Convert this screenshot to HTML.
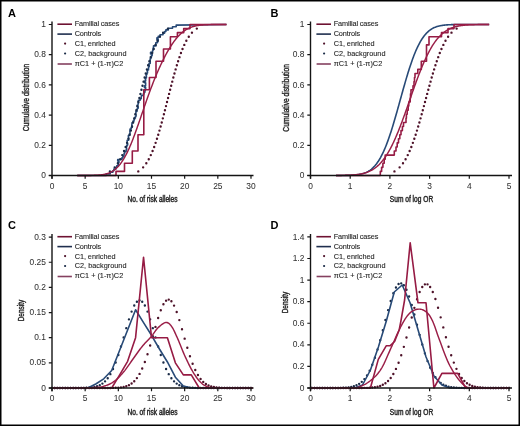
<!DOCTYPE html>
<html><head><meta charset="utf-8"><style>
html,body{margin:0;padding:0;background:#fff;}
svg{display:block;font-family:"Liberation Sans", sans-serif;will-change:transform;filter:blur(0.3px);}
</style></head><body>
<svg width="520" height="426" viewBox="0 0 520 426">
<g opacity="0.999">
<rect x="0.75" y="0.75" width="518.5" height="424.5" fill="none" stroke="#000" stroke-width="1.5"/>
<text x="8.1" y="16.8" font-size="11" text-anchor="start" font-weight="bold" fill="#000">A</text>
<text x="270.6" y="16.8" font-size="11" text-anchor="start" font-weight="bold" fill="#000">B</text>
<text x="8.1" y="229.3" font-size="11" text-anchor="start" font-weight="bold" fill="#000">C</text>
<text x="270.6" y="229.3" font-size="11" text-anchor="start" font-weight="bold" fill="#000">D</text>
<text transform="translate(28.6 97.6) rotate(-90)" font-size="9" text-anchor="middle" font-weight="normal" fill="#262626" stroke="#262626" stroke-width="0.4" textLength="67.5" lengthAdjust="spacingAndGlyphs">Cumulative distribution</text>
<text transform="translate(288.6 97.9) rotate(-90)" font-size="9" text-anchor="middle" font-weight="normal" fill="#262626" stroke="#262626" stroke-width="0.4" textLength="67.5" lengthAdjust="spacingAndGlyphs">Cumulative distribution</text>
<text transform="translate(24.4 310.6) rotate(-90)" font-size="9" text-anchor="middle" font-weight="normal" fill="#262626" stroke="#262626" stroke-width="0.4" textLength="21.5" lengthAdjust="spacingAndGlyphs">Density</text>
<text transform="translate(287.6 302.6) rotate(-90)" font-size="9" text-anchor="middle" font-weight="normal" fill="#262626" stroke="#262626" stroke-width="0.4" textLength="21.5" lengthAdjust="spacingAndGlyphs">Density</text>
<text x="152.5" y="202.2" font-size="8.6" text-anchor="middle" font-weight="normal" fill="#262626" stroke="#262626" stroke-width="0.45" textLength="50" lengthAdjust="spacingAndGlyphs">No. of risk alleles</text>
<text x="411.5" y="202.2" font-size="8.6" text-anchor="middle" font-weight="normal" fill="#262626" stroke="#262626" stroke-width="0.45" textLength="43.3" lengthAdjust="spacingAndGlyphs">Sum of log OR</text>
<text x="152.5" y="414.7" font-size="8.6" text-anchor="middle" font-weight="normal" fill="#262626" stroke="#262626" stroke-width="0.45" textLength="50" lengthAdjust="spacingAndGlyphs">No. of risk alleles</text>
<text x="411.5" y="414.7" font-size="8.6" text-anchor="middle" font-weight="normal" fill="#262626" stroke="#262626" stroke-width="0.45" textLength="43.3" lengthAdjust="spacingAndGlyphs">Sum of log OR</text>
<path d="M77.21 175.5 L106.25 175.5 L106.25 173.9 L110.22 173.9 L110.22 172.3 L112.84 172.3 L112.84 170.7 L113.86 170.7 L113.86 169.1 L115.89 169.1 L115.89 167.5 L116.7 167.5 L116.7 165.9 L118.24 165.9 L118.24 164.3 L118.26 164.3 L118.26 162.7 L118.93 162.7 L118.93 161.1 L117.74 161.1 L117.74 159.5 L121.87 159.5 L121.87 157.9 L122.88 157.9 L122.88 156.3 L123.94 156.3 L123.94 154.7 L124.12 154.7 L124.12 153.1 L124.82 153.1 L124.82 151.5 L126.08 151.5 L126.08 149.9 L126.64 149.9 L126.64 148.3 L126.44 148.3 L126.44 146.7 L126.83 146.7 L126.83 145.1 L127.65 145.1 L127.65 143.5 L127.16 143.5 L127.16 141.9 L127.16 141.9 L127.16 140.3 L128.64 140.3 L128.64 138.7 L128.57 138.7 L128.57 137.1 L128.4 137.1 L128.4 135.5 L129.52 135.5 L129.52 133.9 L130.01 133.9 L130.01 132.3 L129.9 132.3 L129.9 130.7 L130.02 130.7 L130.02 129.1 L131.2 129.1 L131.2 127.5 L132.08 127.5 L132.08 125.9 L131.86 125.9 L131.86 124.3 L131.98 124.3 L131.98 122.7 L133.01 122.7 L133.01 121.1 L134.04 121.1 L134.04 119.5 L134.47 119.5 L134.47 117.9 L135.39 117.9 L135.39 116.3 L136.08 116.3 L136.08 114.7 L135.8 114.7 L135.8 113.1 L135.89 113.1 L135.89 111.5 L136.94 111.5 L136.94 109.9 L137.3 109.9 L137.3 108.3 L138.19 108.3 L138.19 106.7 L137.31 106.7 L137.31 105.1 L138.09 105.1 L138.09 103.5 L138.42 103.5 L138.42 101.9 L138.36 101.9 L138.36 100.3 L140.14 100.3 L140.14 98.7 L141.19 98.7 L141.19 97.1 L141.32 97.1 L141.32 95.5 L143.32 95.5 L143.32 93.9 L144.01 93.9 L144.01 92.3 L144.91 92.3 L144.91 90.7 L145.26 90.7 L145.26 89.1 L145.63 89.1 L145.63 87.5 L144.44 87.5 L144.44 85.9 L145.58 85.9 L145.58 84.3 L145.64 84.3 L145.64 82.7 L144.4 82.7 L144.4 81.1 L145.63 81.1 L145.63 79.5 L145.39 79.5 L145.39 77.9 L146.4 77.9 L146.4 76.3 L146.17 76.3 L146.17 74.7 L146.84 74.7 L146.84 73.1 L147.48 73.1 L147.48 71.5 L147.25 71.5 L147.25 69.9 L148.5 69.9 L148.5 68.3 L148.55 68.3 L148.55 66.7 L149.24 66.7 L149.24 65.1 L149 65.1 L149 63.5 L150.19 63.5 L150.19 61.9 L150.23 61.9 L150.23 60.3 L150.11 60.3 L150.11 58.7 L150.86 58.7 L150.86 57.1 L151.52 57.1 L151.52 55.5 L152.12 55.5 L152.12 53.9 L150.58 53.9 L150.58 52.3 L152.53 52.3 L152.53 50.7 L152.96 50.7 L152.96 49.1 L153.32 49.1 L153.32 47.5 L153.52 47.5 L153.52 45.9 L155.97 45.9 L155.97 44.3 L155.78 44.3 L155.78 42.7 L157.49 42.7 L157.49 41.1 L158.22 41.1 L158.22 39.5 L156.94 39.5 L156.94 37.9 L158.23 37.9 L158.23 36.3 L160.05 36.3 L160.05 34.7 L163.01 34.7 L163.01 33.1 L164.65 33.1 L164.65 31.5 L165.88 31.5 L165.88 29.9 L168.34 29.9 L168.34 28.3 L172.51 28.3 L172.51 26.7 L176.2 26.7 L176.2 25.1 L226.45 24.5" stroke="#284a77" stroke-width="1.6" fill="none" stroke-linejoin="round" opacity="1"/>
<path d="M109.89 171.42h0M114.7 167.34h0M117.85 163.26h0M120.27 159.18h0M122.29 155.09h0M124.05 151.01h0M125.63 146.93h0M127.07 142.85h0M128.41 138.77h0M129.68 134.69h0M130.88 130.61h0M132.03 126.53h0M133.15 122.45h0M134.23 118.36h0M135.29 114.28h0M136.33 110.2h0M137.36 106.12h0M138.38 102.04h0M139.4 97.96h0M140.43 93.88h0M141.45 89.8h0M142.5 85.72h0M143.56 81.64h0M144.64 77.55h0M145.75 73.47h0M146.91 69.39h0M148.11 65.31h0M149.37 61.23h0M150.71 57.15h0M152.16 53.07h0M153.73 48.99h0M155.49 44.91h0M157.51 40.82h0M159.94 36.74h0M163.09 32.66h0M167.9 28.58h0" stroke="#1a2b47" stroke-width="2.4" stroke-linecap="round" fill="none"/>
<path d="M77.21 175.5 L116 175.5 L116 171.42 L124.5 171.42 L124.5 163.26 L132.3 163.26 L132.3 151.01 L138 151.01 L138 134.69 L143.8 134.69 L143.8 89.8 L149.4 89.8 L149.4 77.55 L156 77.55 L156 61.23 L163.5 61.23 L163.5 48.99 L170.4 48.99 L170.4 36.74 L177.4 36.74 L177.4 32.66 L183.7 32.66 L183.7 28.58 L190 28.58 L190 24.5 L226.45 24.5" stroke="#961b44" stroke-width="1.6" fill="none" stroke-linejoin="round" opacity="1"/>
<path d="M77.21 175.5 L77.7 175.5 L78.2 175.5 L78.7 175.5 L79.2 175.5 L79.7 175.5 L80.2 175.49 L80.7 175.49 L81.2 175.49 L81.7 175.49 L82.2 175.49 L82.7 175.49 L83.2 175.49 L83.69 175.49 L84.19 175.48 L84.69 175.48 L85.19 175.48 L85.69 175.48 L86.19 175.47 L86.69 175.47 L87.19 175.47 L87.69 175.46 L88.19 175.46 L88.69 175.45 L89.18 175.45 L89.68 175.44 L90.18 175.43 L90.68 175.42 L91.18 175.41 L91.68 175.4 L92.18 175.39 L92.68 175.38 L93.18 175.36 L93.68 175.35 L94.18 175.33 L94.68 175.31 L95.17 175.29 L95.67 175.27 L96.17 175.25 L96.67 175.22 L97.17 175.19 L97.67 175.15 L98.17 175.12 L98.67 175.08 L99.17 175.04 L99.67 174.99 L100.17 174.94 L100.66 174.88 L101.16 174.82 L101.66 174.76 L102.16 174.69 L102.66 174.61 L103.16 174.53 L103.66 174.44 L104.16 174.34 L104.66 174.24 L105.16 174.13 L105.66 174.01 L106.16 173.88 L106.65 173.74 L107.15 173.59 L107.65 173.43 L108.15 173.26 L108.65 173.07 L109.15 172.88 L109.65 172.67 L110.15 172.45 L110.65 172.21 L111.15 171.96 L111.65 171.7 L112.15 171.41 L112.64 171.12 L113.14 170.8 L113.64 170.46 L114.14 170.11 L114.64 169.74 L115.14 169.34 L115.64 168.93 L116.14 168.5 L116.64 168.04 L117.14 167.56 L117.64 167.06 L118.13 166.53 L118.63 165.98 L119.13 165.41 L119.63 164.81 L120.13 164.18 L120.63 163.53 L121.13 162.85 L121.63 162.15 L122.13 161.42 L122.63 160.66 L123.13 159.87 L123.63 159.06 L124.12 158.22 L124.62 157.35 L125.12 156.46 L125.62 155.53 L126.12 154.58 L126.62 153.61 L127.12 152.6 L127.62 151.57 L128.12 150.52 L128.62 149.43 L129.12 148.33 L129.61 147.19 L130.11 146.04 L130.61 144.86 L131.11 143.66 L131.61 142.43 L132.11 141.19 L132.61 139.92 L133.11 138.64 L133.61 137.33 L134.11 136.01 L134.61 134.68 L135.11 133.32 L135.6 131.95 L136.1 130.57 L136.6 129.18 L137.1 127.78 L137.6 126.36 L138.1 124.94 L138.6 123.5 L139.1 122.07 L139.6 120.62 L140.1 119.17 L140.6 117.72 L141.1 116.27 L141.59 114.81 L142.09 113.35 L142.59 111.9 L143.09 110.44 L143.59 108.99 L144.09 107.54 L144.59 106.1 L145.09 104.66 L145.59 103.23 L146.09 101.8 L146.59 100.38 L147.08 98.97 L147.58 97.57 L148.08 96.17 L148.58 94.79 L149.08 93.42 L149.58 92.05 L150.08 90.7 L150.58 89.36 L151.08 88.03 L151.58 86.72 L152.08 85.41 L152.58 84.12 L153.07 82.84 L153.57 81.58 L154.07 80.32 L154.57 79.09 L155.07 77.86 L155.57 76.65 L156.07 75.45 L156.57 74.26 L157.07 73.09 L157.57 71.93 L158.07 70.78 L158.57 69.65 L159.06 68.53 L159.56 67.42 L160.06 66.33 L160.56 65.25 L161.06 64.19 L161.56 63.13 L162.06 62.1 L162.56 61.07 L163.06 60.06 L163.56 59.06 L164.06 58.08 L164.55 57.11 L165.05 56.15 L165.55 55.21 L166.05 54.28 L166.55 53.36 L167.05 52.46 L167.55 51.58 L168.05 50.7 L168.55 49.85 L169.05 49 L169.55 48.18 L170.05 47.36 L170.54 46.56 L171.04 45.78 L171.54 45.02 L172.04 44.26 L172.54 43.53 L173.04 42.81 L173.54 42.1 L174.04 41.41 L174.54 40.74 L175.04 40.09 L175.54 39.45 L176.03 38.82 L176.53 38.22 L177.03 37.62 L177.53 37.05 L178.03 36.49 L178.53 35.95 L179.03 35.42 L179.53 34.91 L180.03 34.42 L180.53 33.94 L181.03 33.48 L181.53 33.04 L182.02 32.61 L182.52 32.19 L183.02 31.79 L183.52 31.41 L184.02 31.04 L184.52 30.69 L185.02 30.34 L185.52 30.02 L186.02 29.71 L186.52 29.41 L187.02 29.12 L187.52 28.85 L188.01 28.59 L188.51 28.34 L189.01 28.1 L189.51 27.88 L190.01 27.67 L190.51 27.46 L191.01 27.27 L191.51 27.09 L192.01 26.92 L192.51 26.75 L193.01 26.6 L193.5 26.45 L194 26.32 L194.5 26.19 L195 26.07 L195.5 25.95 L196 25.85 L196.5 25.75 L197 25.65 L197.5 25.57 L198 25.48 L198.5 25.41 L199 25.34 L199.49 25.27 L199.99 25.21 L200.49 25.15 L200.99 25.1 L201.49 25.05 L201.99 25 L202.49 24.96 L202.99 24.92 L203.49 24.88 L203.99 24.85 L204.49 24.82 L204.98 24.79 L205.48 24.76 L205.98 24.74 L206.48 24.72 L206.98 24.7 L207.48 24.68 L207.98 24.66 L208.48 24.65 L208.98 24.63 L209.48 24.62 L209.98 24.61 L210.48 24.6 L210.97 24.59 L211.47 24.58 L211.97 24.57 L212.47 24.56 L212.97 24.56 L213.47 24.55 L213.97 24.55 L214.47 24.54 L214.97 24.54 L215.47 24.53 L215.97 24.53 L216.47 24.53 L216.96 24.52 L217.46 24.52 L217.96 24.52 L218.46 24.52 L218.96 24.51 L219.46 24.51 L219.96 24.51 L220.46 24.51 L220.96 24.51 L221.46 24.51 L221.96 24.51 L222.45 24.51 L222.95 24.51 L223.45 24.5 L223.95 24.5 L224.45 24.5 L224.95 24.5 L225.45 24.5 L225.95 24.5 L226.45 24.5" stroke="#9a1e47" stroke-width="1.45" fill="none" stroke-linejoin="round" opacity="1"/>
<path d="M138.29 171.42h0M143.14 167.34h0M146.31 163.26h0M148.76 159.18h0M150.8 155.09h0M152.58 151.01h0M154.17 146.93h0M155.62 142.85h0M156.98 138.77h0M158.25 134.69h0M159.46 130.61h0M160.63 126.53h0M161.75 122.45h0M162.84 118.36h0M163.91 114.28h0M164.96 110.2h0M166 106.12h0M167.03 102.04h0M168.06 97.96h0M169.09 93.88h0M170.13 89.8h0M171.18 85.72h0M172.25 81.64h0M173.34 77.55h0M174.47 73.47h0M175.63 69.39h0M176.84 65.31h0M178.12 61.23h0M179.47 57.15h0M180.93 53.07h0M182.52 48.99h0M184.29 44.91h0M186.33 40.82h0M188.78 36.74h0M191.95 32.66h0M196.81 28.58h0" stroke="#4e1229" stroke-width="2.4" stroke-linecap="round" fill="none"/>
<path d="M335.91 175.49 L336.42 175.49 L336.93 175.49 L337.45 175.49 L337.96 175.49 L338.47 175.48 L338.98 175.48 L339.5 175.48 L340.01 175.48 L340.52 175.47 L341.03 175.47 L341.55 175.47 L342.06 175.46 L342.57 175.46 L343.08 175.45 L343.6 175.45 L344.11 175.44 L344.62 175.44 L345.13 175.43 L345.65 175.42 L346.16 175.41 L346.67 175.4 L347.18 175.39 L347.7 175.38 L348.21 175.36 L348.72 175.35 L349.23 175.33 L349.75 175.31 L350.26 175.29 L350.77 175.27 L351.28 175.25 L351.8 175.22 L352.31 175.19 L352.82 175.16 L353.33 175.13 L353.85 175.09 L354.36 175.05 L354.87 175.01 L355.38 174.96 L355.9 174.91 L356.41 174.85 L356.92 174.79 L357.43 174.72 L357.95 174.65 L358.46 174.57 L358.97 174.49 L359.48 174.4 L360 174.3 L360.51 174.2 L361.02 174.09 L361.53 173.97 L362.05 173.84 L362.56 173.7 L363.07 173.55 L363.58 173.39 L364.1 173.21 L364.61 173.03 L365.12 172.84 L365.63 172.63 L366.15 172.41 L366.66 172.17 L367.17 171.92 L367.68 171.65 L368.2 171.36 L368.71 171.06 L369.22 170.74 L369.73 170.41 L370.25 170.05 L370.76 169.67 L371.27 169.27 L371.78 168.85 L372.3 168.4 L372.81 167.94 L373.32 167.45 L373.83 166.93 L374.35 166.39 L374.86 165.82 L375.37 165.22 L375.88 164.6 L376.4 163.95 L376.91 163.26 L377.42 162.55 L377.93 161.81 L378.45 161.04 L378.96 160.23 L379.47 159.39 L379.98 158.52 L380.5 157.62 L381.01 156.68 L381.52 155.71 L382.03 154.71 L382.55 153.67 L383.06 152.6 L383.57 151.49 L384.08 150.35 L384.6 149.17 L385.11 147.96 L385.62 146.72 L386.13 145.44 L386.65 144.12 L387.16 142.78 L387.67 141.4 L388.18 139.99 L388.7 138.55 L389.21 137.07 L389.72 135.57 L390.23 134.04 L390.75 132.47 L391.26 130.89 L391.77 129.27 L392.28 127.63 L392.8 125.96 L393.31 124.28 L393.82 122.57 L394.33 120.84 L394.85 119.09 L395.36 117.32 L395.87 115.54 L396.38 113.74 L396.9 111.93 L397.41 110.11 L397.92 108.28 L398.43 106.44 L398.95 104.6 L399.46 102.75 L399.97 100.9 L400.48 99.05 L401 97.2 L401.51 95.35 L402.02 93.51 L402.53 91.67 L403.05 89.84 L403.56 88.02 L404.07 86.21 L404.59 84.42 L405.1 82.63 L405.61 80.87 L406.12 79.12 L406.64 77.39 L407.15 75.68 L407.66 73.99 L408.17 72.33 L408.69 70.69 L409.2 69.07 L409.71 67.48 L410.22 65.92 L410.74 64.39 L411.25 62.89 L411.76 61.42 L412.27 59.97 L412.79 58.56 L413.3 57.19 L413.81 55.84 L414.32 54.53 L414.84 53.25 L415.35 52.01 L415.86 50.8 L416.37 49.62 L416.89 48.48 L417.4 47.37 L417.91 46.3 L418.42 45.26 L418.94 44.26 L419.45 43.29 L419.96 42.36 L420.47 41.45 L420.99 40.58 L421.5 39.75 L422.01 38.94 L422.52 38.17 L423.04 37.43 L423.55 36.72 L424.06 36.04 L424.57 35.39 L425.09 34.76 L425.6 34.17 L426.11 33.6 L426.62 33.06 L427.14 32.54 L427.65 32.05 L428.16 31.58 L428.67 31.14 L429.19 30.72 L429.7 30.32 L430.21 29.94 L430.72 29.59 L431.24 29.25 L431.75 28.93 L432.26 28.63 L432.77 28.34 L433.29 28.08 L433.8 27.83 L434.31 27.59 L434.82 27.37 L435.34 27.16 L435.85 26.96 L436.36 26.78 L436.87 26.61 L437.39 26.45 L437.9 26.3 L438.41 26.16 L438.92 26.03 L439.44 25.91 L439.95 25.8 L440.46 25.69 L440.97 25.6 L441.49 25.51 L442 25.42 L442.51 25.35 L443.02 25.27 L443.54 25.21 L444.05 25.15 L444.56 25.09 L445.07 25.04 L445.59 24.99 L446.1 24.95 L446.61 24.91 L447.12 24.87 L447.64 24.84 L448.15 24.81 L448.66 24.78 L449.17 24.75 L449.69 24.73 L450.2 24.71 L450.71 24.69 L451.22 24.67 L451.74 24.65 L452.25 24.64 L452.76 24.62 L453.27 24.61 L453.79 24.6 L454.3 24.59 L454.81 24.58 L455.32 24.57 L455.84 24.56 L456.35 24.56 L456.86 24.55 L457.37 24.55 L457.89 24.54 L458.4 24.54 L458.91 24.53 L459.42 24.53 L459.94 24.53 L460.45 24.52 L460.96 24.52 L461.47 24.52 L461.99 24.52 L462.5 24.51 L463.01 24.51 L463.52 24.51 L464.04 24.51 L464.55 24.51 L465.06 24.51 L465.57 24.51 L466.09 24.51 L466.6 24.51 L467.11 24.5 L467.62 24.5 L468.14 24.5 L468.65 24.5 L469.16 24.5 L469.67 24.5 L470.19 24.5 L470.7 24.5 L471.21 24.5 L471.72 24.5 L472.24 24.5 L472.75 24.5 L473.26 24.5 L473.77 24.5 L474.29 24.5 L474.8 24.5 L475.31 24.5 L475.82 24.5 L476.34 24.5 L476.85 24.5 L477.36 24.5 L477.87 24.5 L478.39 24.5 L478.9 24.5 L479.41 24.5 L479.92 24.5 L480.44 24.5 L480.95 24.5 L481.46 24.5 L481.97 24.5 L482.49 24.5 L483 24.5 L483.51 24.5 L484.02 24.5 L484.54 24.5 L485.05 24.5 L485.56 24.5 L486.07 24.5 L486.59 24.5 L487.1 24.5 L487.61 24.5 L488.12 24.5 L488.64 24.5 L489.15 24.5" stroke="#284a77" stroke-width="1.6" fill="none" stroke-linejoin="round" opacity="1"/>
<path d="M335.91 175.5 L380.3 175.5 L380.3 171.42 L381.6 171.42 L381.6 167.34 L382.9 167.34 L382.9 163.26 L384.2 163.26 L384.2 159.18 L385.2 159.18 L385.2 155.09 L394.3 155.09 L394.3 151.01 L396 151.01 L396 146.93 L397.2 146.93 L397.2 142.85 L398.5 142.85 L398.5 138.77 L399.8 138.77 L399.8 134.69 L401 134.69 L401 130.61 L402.4 130.61 L402.4 126.53 L403.5 126.53 L403.5 122.45 L406 122.45 L406 118.36 L406.4 118.36 L406.4 114.28 L407.2 114.28 L407.2 110.2 L408.2 110.2 L408.2 106.12 L408.8 106.12 L408.8 102.04 L410.2 102.04 L410.2 97.96 L410.5 97.96 L410.5 93.88 L411 93.88 L411 89.8 L413 89.8 L413 85.72 L414 85.72 L414 81.64 L414.5 81.64 L414.5 77.55 L415 77.55 L415 73.47 L417.8 73.47 L417.8 69.39 L421.3 69.39 L421.3 65.31 L421.3 65.31 L421.3 61.23 L426.5 61.23 L426.5 57.15 L426.5 57.15 L426.5 53.07 L426.5 53.07 L426.5 48.99 L426.5 48.99 L426.5 44.91 L429 44.91 L429 40.82 L429 40.82 L429 36.74 L441.5 36.74 L441.5 32.66 L448 32.66 L448 28.58 L454 28.58 L454 24.5 L489.15 24.5" stroke="#961b44" stroke-width="1.6" fill="none" stroke-linejoin="round" opacity="1"/>
<path d="M335.91 175.47 L336.42 175.46 L336.93 175.46 L337.45 175.46 L337.96 175.45 L338.47 175.45 L338.98 175.44 L339.5 175.44 L340.01 175.43 L340.52 175.42 L341.03 175.42 L341.55 175.41 L342.06 175.4 L342.57 175.39 L343.08 175.38 L343.6 175.37 L344.11 175.36 L344.62 175.35 L345.13 175.34 L345.65 175.33 L346.16 175.31 L346.67 175.29 L347.18 175.28 L347.7 175.26 L348.21 175.24 L348.72 175.22 L349.23 175.2 L349.75 175.17 L350.26 175.15 L350.77 175.12 L351.28 175.09 L351.8 175.06 L352.31 175.02 L352.82 174.99 L353.33 174.95 L353.85 174.9 L354.36 174.86 L354.87 174.81 L355.38 174.76 L355.9 174.71 L356.41 174.65 L356.92 174.59 L357.43 174.53 L357.95 174.46 L358.46 174.38 L358.97 174.31 L359.48 174.22 L360 174.14 L360.51 174.05 L361.02 173.95 L361.53 173.84 L362.05 173.73 L362.56 173.62 L363.07 173.5 L363.58 173.37 L364.1 173.23 L364.61 173.09 L365.12 172.94 L365.63 172.78 L366.15 172.61 L366.66 172.44 L367.17 172.25 L367.68 172.06 L368.2 171.85 L368.71 171.64 L369.22 171.42 L369.73 171.18 L370.25 170.94 L370.76 170.68 L371.27 170.41 L371.78 170.13 L372.3 169.83 L372.81 169.52 L373.32 169.2 L373.83 168.87 L374.35 168.52 L374.86 168.16 L375.37 167.78 L375.88 167.38 L376.4 166.97 L376.91 166.55 L377.42 166.11 L377.93 165.65 L378.45 165.17 L378.96 164.68 L379.47 164.16 L379.98 163.63 L380.5 163.08 L381.01 162.52 L381.52 161.93 L382.03 161.32 L382.55 160.7 L383.06 160.05 L383.57 159.38 L384.08 158.7 L384.6 157.99 L385.11 157.26 L385.62 156.51 L386.13 155.74 L386.65 154.95 L387.16 154.13 L387.67 153.3 L388.18 152.44 L388.7 151.56 L389.21 150.66 L389.72 149.74 L390.23 148.8 L390.75 147.83 L391.26 146.85 L391.77 145.84 L392.28 144.81 L392.8 143.76 L393.31 142.69 L393.82 141.6 L394.33 140.48 L394.85 139.35 L395.36 138.2 L395.87 137.03 L396.38 135.84 L396.9 134.63 L397.41 133.4 L397.92 132.16 L398.43 130.9 L398.95 129.62 L399.46 128.33 L399.97 127.02 L400.48 125.69 L401 124.35 L401.51 123 L402.02 121.64 L402.53 120.26 L403.05 118.87 L403.56 117.47 L404.07 116.06 L404.59 114.64 L405.1 113.21 L405.61 111.78 L406.12 110.33 L406.64 108.89 L407.15 107.43 L407.66 105.97 L408.17 104.51 L408.69 103.05 L409.2 101.58 L409.71 100.11 L410.22 98.65 L410.74 97.18 L411.25 95.72 L411.76 94.25 L412.27 92.79 L412.79 91.34 L413.3 89.89 L413.81 88.45 L414.32 87.01 L414.84 85.58 L415.35 84.16 L415.86 82.75 L416.37 81.35 L416.89 79.96 L417.4 78.58 L417.91 77.21 L418.42 75.86 L418.94 74.51 L419.45 73.19 L419.96 71.88 L420.47 70.58 L420.99 69.3 L421.5 68.03 L422.01 66.79 L422.52 65.56 L423.04 64.35 L423.55 63.15 L424.06 61.98 L424.57 60.83 L425.09 59.69 L425.6 58.58 L426.11 57.48 L426.62 56.41 L427.14 55.35 L427.65 54.32 L428.16 53.31 L428.67 52.32 L429.19 51.35 L429.7 50.4 L430.21 49.48 L430.72 48.57 L431.24 47.69 L431.75 46.83 L432.26 45.99 L432.77 45.18 L433.29 44.38 L433.8 43.61 L434.31 42.85 L434.82 42.12 L435.34 41.41 L435.85 40.72 L436.36 40.05 L436.87 39.4 L437.39 38.77 L437.9 38.16 L438.41 37.57 L438.92 37 L439.44 36.45 L439.95 35.92 L440.46 35.4 L440.97 34.91 L441.49 34.43 L442 33.96 L442.51 33.52 L443.02 33.09 L443.54 32.68 L444.05 32.28 L444.56 31.9 L445.07 31.54 L445.59 31.18 L446.1 30.85 L446.61 30.52 L447.12 30.21 L447.64 29.92 L448.15 29.63 L448.66 29.36 L449.17 29.1 L449.69 28.86 L450.2 28.62 L450.71 28.39 L451.22 28.18 L451.74 27.97 L452.25 27.78 L452.76 27.59 L453.27 27.41 L453.79 27.25 L454.3 27.09 L454.81 26.93 L455.32 26.79 L455.84 26.65 L456.35 26.52 L456.86 26.4 L457.37 26.28 L457.89 26.17 L458.4 26.07 L458.91 25.97 L459.42 25.88 L459.94 25.79 L460.45 25.71 L460.96 25.63 L461.47 25.55 L461.99 25.48 L462.5 25.42 L463.01 25.36 L463.52 25.3 L464.04 25.25 L464.55 25.19 L465.06 25.15 L465.57 25.1 L466.09 25.06 L466.6 25.02 L467.11 24.98 L467.62 24.95 L468.14 24.92 L468.65 24.89 L469.16 24.86 L469.67 24.83 L470.19 24.81 L470.7 24.78 L471.21 24.76 L471.72 24.74 L472.24 24.73 L472.75 24.71 L473.26 24.69 L473.77 24.68 L474.29 24.66 L474.8 24.65 L475.31 24.64 L475.82 24.63 L476.34 24.62 L476.85 24.61 L477.36 24.6 L477.87 24.59 L478.39 24.58 L478.9 24.58 L479.41 24.57 L479.92 24.56 L480.44 24.56 L480.95 24.55 L481.46 24.55 L481.97 24.55 L482.49 24.54 L483 24.54 L483.51 24.53 L484.02 24.53 L484.54 24.53 L485.05 24.53 L485.56 24.52 L486.07 24.52 L486.59 24.52 L487.1 24.52 L487.61 24.52 L488.12 24.51 L488.64 24.51 L489.15 24.51" stroke="#9a1e47" stroke-width="1.45" fill="none" stroke-linejoin="round" opacity="1"/>
<path d="M394.45 171.42h0M399.61 167.34h0M402.99 163.26h0M405.59 159.18h0M407.75 155.09h0M409.64 151.01h0M411.33 146.93h0M412.88 142.85h0M414.32 138.77h0M415.67 134.69h0M416.96 130.61h0M418.2 126.53h0M419.39 122.45h0M420.55 118.36h0M421.69 114.28h0M422.8 110.2h0M423.91 106.12h0M425 102.04h0M426.1 97.96h0M427.19 93.88h0M428.3 89.8h0M429.41 85.72h0M430.55 81.64h0M431.71 77.55h0M432.91 73.47h0M434.14 69.39h0M435.43 65.31h0M436.78 61.23h0M438.22 57.15h0M439.77 53.07h0M441.46 48.99h0M443.35 44.91h0M445.51 40.82h0M448.11 36.74h0M451.49 32.66h0M456.65 28.58h0" stroke="#4e1229" stroke-width="2.4" stroke-linecap="round" fill="none"/>
<path d="M52 388h0M54.65 388h0M57.31 388h0M59.96 388h0M62.61 388h0M65.27 388h0M67.92 388h0M70.57 388h0M73.23 387.99h0M75.88 387.99h0M78.53 387.97h0M81.19 387.95h0M83.84 387.9h0M86.49 387.8h0M89.14 387.64h0M91.8 387.37h0M94.45 386.93h0M97.1 386.24h0M99.76 385.17h0M102.41 383.59h0M105.06 381.35h0M107.72 378.26h0M110.37 374.16h0M113.02 368.94h0M115.68 362.53h0M118.33 354.99h0M120.98 346.5h0M123.64 337.4h0M126.29 328.16h0M128.94 319.35h0M131.6 311.61h0M134.25 305.56h0M136.9 301.7h0M139.56 300.37h0M142.21 301.7h0M144.86 305.56h0M147.52 311.61h0M150.17 319.35h0M152.82 328.16h0M155.47 337.4h0M158.13 346.5h0M160.78 354.99h0M163.43 362.53h0M166.09 368.94h0M168.74 374.16h0M171.39 378.26h0M174.05 381.35h0M176.7 383.59h0M179.35 385.17h0M182.01 386.24h0M184.66 386.93h0M187.31 387.37h0M189.97 387.64h0M192.62 387.8h0M195.27 387.9h0M197.93 387.95h0M200.58 387.97h0M203.23 387.99h0M205.89 387.99h0M208.54 388h0M211.19 388h0M213.85 388h0M216.5 388h0M219.15 388h0M221.8 388h0M224.46 388h0M227.11 388h0M229.76 388h0M232.42 388h0M235.07 388h0M237.72 388h0M240.38 388h0M243.03 388h0M245.68 388h0M248.34 388h0M250.99 388h0" stroke="#1a2b47" stroke-width="2.4" stroke-linecap="round" fill="none"/>
<path d="M52 388h0M54.65 388h0M57.31 388h0M59.96 388h0M62.61 388h0M65.27 388h0M67.92 388h0M70.57 388h0M73.23 388h0M75.88 388h0M78.53 388h0M81.19 388h0M83.84 388h0M86.49 388h0M89.14 388h0M91.8 388h0M94.45 388h0M97.1 388h0M99.76 388h0M102.41 387.99h0M105.06 387.99h0M107.72 387.97h0M110.37 387.95h0M113.02 387.9h0M115.68 387.81h0M118.33 387.65h0M120.98 387.38h0M123.64 386.94h0M126.29 386.23h0M128.94 385.15h0M131.6 383.55h0M134.25 381.26h0M136.9 378.1h0M139.56 373.91h0M142.21 368.55h0M144.86 361.98h0M147.52 354.25h0M150.17 345.56h0M152.82 336.27h0M155.47 326.88h0M158.13 317.98h0M160.78 310.25h0M163.43 304.3h0M166.09 300.64h0M168.74 299.62h0M171.39 301.32h0M174.05 305.59h0M176.7 312.04h0M179.35 320.12h0M182.01 329.2h0M184.66 338.63h0M187.31 347.81h0M189.97 356.28h0M192.62 363.73h0M195.27 370h0M197.93 375.06h0M200.58 378.98h0M203.23 381.91h0M205.89 384.01h0M208.54 385.46h0M211.19 386.44h0M213.85 387.07h0M216.5 387.46h0M219.15 387.7h0M221.8 387.84h0M224.46 387.91h0M227.11 387.96h0M229.76 387.98h0M232.42 387.99h0M235.07 388h0M237.72 388h0M240.38 388h0M243.03 388h0M245.68 388h0M248.34 388h0M250.99 388h0" stroke="#4e1229" stroke-width="2.4" stroke-linecap="round" fill="none"/>
<path d="M52 388 L87.82 388 L95.78 383.98 L103.74 378.8 L111.7 370.5 L135.58 309.78 L143.54 322.61 L151.5 335.29 L159.45 349.02 L167.41 361.99 L175.37 377.19 L183.33 385.99 L191.29 388 L250.99 388" stroke="#284a77" stroke-width="1.6" fill="none" stroke-linejoin="round" opacity="1"/>
<path d="M52 388 L111.7 388 L119.66 374.92 L127.62 361.34 L135.58 337.7 L143.54 257.22 L151.5 337.7 L159.45 337.7 L167.41 337.7 L175.37 362.85 L183.33 374.92 L191.29 374.92 L199.25 388 L250.99 388" stroke="#961b44" stroke-width="1.6" fill="none" stroke-linejoin="round" opacity="1"/>
<path d="M52 388 L53.74 388 L56.06 388.01 L58.85 388.01 L61.95 388.02 L65.25 388.03 L68.61 388.03 L71.89 388.03 L74.98 388.03 L77.72 388.02 L80 388 L81.85 387.98 L83.44 387.96 L84.81 387.93 L86 387.9 L87.06 387.87 L88.04 387.83 L88.98 387.78 L89.92 387.73 L90.91 387.67 L92 387.6 L93.14 387.54 L94.26 387.49 L95.37 387.45 L96.47 387.4 L97.56 387.34 L98.64 387.26 L99.72 387.15 L100.81 386.99 L101.9 386.78 L103 386.5 L104.11 386.17 L105.23 385.81 L106.36 385.42 L107.49 384.98 L108.62 384.5 L109.74 383.98 L110.86 383.41 L111.96 382.79 L113.04 382.12 L114.1 381.4 L115.14 380.62 L116.17 379.77 L117.19 378.86 L118.19 377.91 L119.18 376.91 L120.16 375.88 L121.13 374.81 L122.1 373.72 L123.05 372.62 L124 371.5 L124.94 370.35 L125.86 369.16 L126.77 367.93 L127.66 366.68 L128.56 365.4 L129.44 364.11 L130.33 362.82 L131.21 361.53 L132.1 360.25 L133 359 L133.9 357.75 L134.79 356.5 L135.68 355.24 L136.58 353.98 L137.47 352.73 L138.36 351.48 L139.26 350.25 L140.17 349.04 L141.08 347.86 L142 346.7 L142.94 345.57 L143.92 344.45 L144.91 343.35 L145.91 342.27 L146.91 341.21 L147.89 340.16 L148.85 339.14 L149.78 338.14 L150.67 337.16 L151.5 336.2 L152.27 335.26 L152.97 334.34 L153.63 333.43 L154.25 332.54 L154.86 331.68 L155.45 330.84 L156.05 330.03 L156.66 329.25 L157.31 328.5 L158 327.8 L158.74 327.1 L159.51 326.4 L160.31 325.7 L161.13 325.02 L161.95 324.39 L162.77 323.82 L163.57 323.32 L164.35 322.93 L165.1 322.65 L165.8 322.5 L166.45 322.48 L167.07 322.55 L167.66 322.73 L168.23 323 L168.78 323.35 L169.31 323.79 L169.85 324.31 L170.39 324.9 L170.94 325.57 L171.5 326.3 L172.07 327.11 L172.62 328 L173.17 328.97 L173.72 330.01 L174.28 331.14 L174.84 332.33 L175.42 333.6 L176.02 334.94 L176.64 336.34 L177.3 337.8 L177.99 339.37 L178.72 341.09 L179.47 342.91 L180.24 344.81 L181.03 346.76 L181.83 348.73 L182.63 350.69 L183.43 352.61 L184.22 354.45 L185 356.2 L185.77 357.88 L186.54 359.53 L187.31 361.17 L188.08 362.77 L188.85 364.34 L189.62 365.87 L190.39 367.35 L191.16 368.79 L191.93 370.17 L192.7 371.5 L193.47 372.78 L194.24 374.01 L195.01 375.21 L195.78 376.36 L196.55 377.46 L197.32 378.5 L198.09 379.49 L198.86 380.43 L199.63 381.3 L200.4 382.1 L201.16 382.83 L201.9 383.49 L202.64 384.08 L203.37 384.62 L204.11 385.09 L204.86 385.52 L205.63 385.91 L206.42 386.27 L207.24 386.6 L208.1 386.9 L208.89 387.16 L209.54 387.37 L210.12 387.54 L210.7 387.66 L211.34 387.75 L212.13 387.82 L213.12 387.87 L214.38 387.91 L215.98 387.95 L218 388 L220.64 388.04 L223.95 388.07 L227.76 388.08 L231.87 388.08 L236.12 388.07 L240.32 388.05 L244.28 388.03 L247.84 388.02 L250.8 388 L253 388" stroke="#9a1e47" stroke-width="1.45" fill="none" stroke-linejoin="round" opacity="1"/>
<path d="M311.8 388h0M314.43 388h0M317.06 388h0M319.69 388h0M322.32 388h0M324.95 388h0M327.58 388h0M330.21 387.99h0M332.84 387.98h0M335.47 387.96h0M338.1 387.93h0M340.73 387.88h0M343.36 387.78h0M345.99 387.61h0M348.62 387.35h0M351.25 386.92h0M353.88 386.27h0M356.51 385.29h0M359.14 383.86h0M361.77 381.85h0M364.4 379.08h0M367.03 375.41h0M369.66 370.69h0M372.29 364.8h0M374.92 357.7h0M377.55 349.45h0M380.18 340.21h0M382.81 330.27h0M385.44 320.05h0M388.07 310.08h0M390.7 300.94h0M393.33 293.21h0M395.96 287.45h0M398.59 284.07h0M401.22 283.34h0M403.85 285.3h0M406.48 289.81h0M409.11 296.53h0M411.74 304.97h0M414.37 314.57h0M417 324.73h0M419.63 334.87h0M422.26 344.54h0M424.89 353.36h0M427.52 361.09h0M430.15 367.64h0M432.78 372.99h0M435.41 377.21h0M438.04 380.45h0M440.67 382.85h0M443.3 384.58h0M445.93 385.78h0M448.56 386.6h0M451.19 387.14h0M453.82 387.49h0M456.45 387.7h0M459.08 387.83h0M461.71 387.91h0M464.34 387.95h0M466.97 387.97h0M469.6 387.99h0M472.23 387.99h0M474.86 388h0M477.49 388h0M480.12 388h0M482.75 388h0M485.38 388h0M488.01 388h0M490.64 388h0M493.27 388h0M495.9 388h0M498.53 388h0M501.16 388h0M503.79 388h0M506.42 388h0M509.05 388h0" stroke="#1a2b47" stroke-width="2.4" stroke-linecap="round" fill="none"/>
<path d="M311.8 388h0M314.43 388h0M317.06 388h0M319.69 388h0M322.32 388h0M324.95 388h0M327.58 388h0M330.21 388h0M332.84 388h0M335.47 388h0M338.1 388h0M340.73 388h0M343.36 388h0M345.99 388h0M348.62 388h0M351.25 388h0M353.88 387.99h0M356.51 387.99h0M359.14 387.97h0M361.77 387.95h0M364.4 387.91h0M367.03 387.84h0M369.66 387.72h0M372.29 387.52h0M374.92 387.2h0M377.55 386.7h0M380.18 385.95h0M382.81 384.82h0M385.44 383.22h0M388.07 380.97h0M390.7 377.94h0M393.33 373.97h0M395.96 368.92h0M398.59 362.71h0M401.22 355.32h0M403.85 346.84h0M406.48 337.47h0M409.11 327.54h0M411.74 317.49h0M414.37 307.84h0M417 299.18h0M419.63 292.07h0M422.26 287.01h0M424.89 284.37h0M427.52 284.35h0M430.15 286.95h0M432.78 291.97h0M435.41 299.05h0M438.04 307.7h0M440.67 317.33h0M443.3 327.39h0M445.93 337.32h0M448.56 346.7h0M451.19 355.19h0M453.82 362.6h0M456.45 368.83h0M459.08 373.9h0M461.71 377.89h0M464.34 380.93h0M466.97 383.19h0M469.6 384.8h0M472.23 385.93h0M474.86 386.7h0M477.49 387.2h0M480.12 387.52h0M482.75 387.72h0M485.38 387.84h0M488.01 387.91h0M490.64 387.95h0M493.27 387.97h0M495.9 387.99h0M498.53 387.99h0M501.16 388h0M503.79 388h0M506.42 388h0M509.05 388h0" stroke="#4e1229" stroke-width="2.4" stroke-linecap="round" fill="none"/>
<path d="M310.5 388 L354.57 388 L362.51 385 L370.45 370 L378.39 347 L386.33 321 L394.27 292 L402.21 285 L410.15 303 L418.09 330 L426.03 357 L433.97 376 L441.91 385 L449.85 388 L509 388" stroke="#284a77" stroke-width="1.6" fill="none" stroke-linejoin="round" opacity="1"/>
<path d="M310.5 388 L370.4 388 L378.3 359.4 L386.2 345.8 L390 345.8 L394.6 341.5 L399.2 330 L401.1 320 L404.6 300 L410.2 242.8 L418 302.8 L426 302.8 L433.9 388 L441.9 373.4 L457.7 373.4 L465.7 388 L509 388" stroke="#961b44" stroke-width="1.6" fill="none" stroke-linejoin="round" opacity="1"/>
<path d="M310.5 388 L312.65 388 L315.55 388.01 L319.02 388.02 L322.89 388.02 L326.99 388.03 L331.15 388.04 L335.2 388.04 L338.98 388.03 L342.3 388.02 L345 388 L347.12 388 L348.86 388.03 L350.28 388.08 L351.46 388.12 L352.46 388.16 L353.35 388.16 L354.2 388.11 L355.08 387.99 L356.06 387.8 L357.2 387.5 L358.46 387.12 L359.75 386.67 L361.05 386.16 L362.36 385.6 L363.67 384.97 L364.97 384.28 L366.27 383.54 L367.54 382.75 L368.79 381.9 L370 381 L371.18 380.06 L372.35 379.1 L373.49 378.09 L374.62 377.03 L375.73 375.91 L376.83 374.71 L377.91 373.43 L378.98 372.06 L380.05 370.59 L381.1 369 L382.14 367.26 L383.16 365.38 L384.17 363.36 L385.16 361.25 L386.14 359.06 L387.12 356.83 L388.09 354.58 L389.06 352.34 L390.03 350.14 L391 348 L391.98 345.87 L392.95 343.68 L393.93 341.46 L394.9 339.24 L395.87 337.03 L396.83 334.86 L397.79 332.75 L398.74 330.72 L399.67 328.8 L400.6 327 L401.51 325.31 L402.4 323.67 L403.28 322.11 L404.15 320.62 L405.01 319.21 L405.88 317.88 L406.74 316.64 L407.61 315.5 L408.5 314.45 L409.4 313.5 L410.32 312.66 L411.26 311.91 L412.21 311.26 L413.17 310.71 L414.14 310.24 L415.1 309.85 L416.05 309.55 L416.99 309.33 L417.91 309.18 L418.8 309.1 L419.68 309.1 L420.55 309.2 L421.42 309.38 L422.27 309.65 L423.11 309.99 L423.94 310.4 L424.74 310.87 L425.52 311.4 L426.27 311.98 L427 312.6 L427.69 313.26 L428.33 313.96 L428.95 314.72 L429.53 315.52 L430.11 316.39 L430.67 317.34 L431.23 318.36 L431.8 319.48 L432.39 320.69 L433 322 L433.61 323.42 L434.2 324.92 L434.79 326.52 L435.37 328.2 L435.97 329.96 L436.59 331.81 L437.24 333.74 L437.94 335.75 L438.69 337.84 L439.5 340 L440.38 342.31 L441.3 344.81 L442.27 347.45 L443.28 350.18 L444.33 352.97 L445.41 355.76 L446.53 358.5 L447.66 361.15 L448.82 363.67 L450 366 L451.22 368.22 L452.49 370.42 L453.81 372.57 L455.15 374.66 L456.52 376.66 L457.89 378.54 L459.26 380.29 L460.61 381.88 L461.92 383.29 L463.2 384.5 L464.34 385.47 L465.29 386.22 L466.14 386.76 L466.96 387.15 L467.8 387.41 L468.75 387.57 L469.87 387.68 L471.24 387.76 L472.93 387.86 L475 388 L477.65 388.14 L480.92 388.22 L484.64 388.26 L488.63 388.25 L492.74 388.22 L496.78 388.17 L500.6 388.11 L504.02 388.06 L506.88 388.02 L509 388" stroke="#9a1e47" stroke-width="1.45" fill="none" stroke-linejoin="round" opacity="1"/>
<path d="M52 21.5 V178.7" stroke="#141414" stroke-width="1.4" fill="none"/>
<path d="M48.8 175.5 H253.5" stroke="#141414" stroke-width="1.4" fill="none"/>
<text x="52" y="188.9" font-size="8.4" text-anchor="middle" font-weight="normal" fill="#333" stroke="#333" stroke-width="0.05">0</text>
<text x="85.16" y="188.9" font-size="8.4" text-anchor="middle" font-weight="normal" fill="#333" stroke="#333" stroke-width="0.05">5</text>
<text x="118.33" y="188.9" font-size="8.4" text-anchor="middle" font-weight="normal" fill="#333" stroke="#333" stroke-width="0.05">10</text>
<text x="151.5" y="188.9" font-size="8.4" text-anchor="middle" font-weight="normal" fill="#333" stroke="#333" stroke-width="0.05">15</text>
<text x="184.66" y="188.9" font-size="8.4" text-anchor="middle" font-weight="normal" fill="#333" stroke="#333" stroke-width="0.05">20</text>
<text x="217.82" y="188.9" font-size="8.4" text-anchor="middle" font-weight="normal" fill="#333" stroke="#333" stroke-width="0.05">25</text>
<text x="250.99" y="188.9" font-size="8.4" text-anchor="middle" font-weight="normal" fill="#333" stroke="#333" stroke-width="0.05">30</text>
<text x="45.8" y="178.1" font-size="8.4" text-anchor="end" font-weight="normal" fill="#333" stroke="#333" stroke-width="0.05">0</text>
<text x="45.8" y="147.9" font-size="8.4" text-anchor="end" font-weight="normal" fill="#333" stroke="#333" stroke-width="0.05">0.2</text>
<text x="45.8" y="117.7" font-size="8.4" text-anchor="end" font-weight="normal" fill="#333" stroke="#333" stroke-width="0.05">0.4</text>
<text x="45.8" y="87.5" font-size="8.4" text-anchor="end" font-weight="normal" fill="#333" stroke="#333" stroke-width="0.05">0.6</text>
<text x="45.8" y="57.3" font-size="8.4" text-anchor="end" font-weight="normal" fill="#333" stroke="#333" stroke-width="0.05">0.8</text>
<text x="45.8" y="27.1" font-size="8.4" text-anchor="end" font-weight="normal" fill="#333" stroke="#333" stroke-width="0.05">1</text>
<path d="M52 175.5 V178.7 M85.16 175.5 V178.7 M118.33 175.5 V178.7 M151.5 175.5 V178.7 M184.66 175.5 V178.7 M217.82 175.5 V178.7 M250.99 175.5 V178.7 M48.8 175.5 H52 M48.8 145.3 H52 M48.8 115.1 H52 M48.8 84.9 H52 M48.8 54.7 H52 M48.8 24.5 H52 " stroke="#141414" stroke-width="1.2" fill="none"/>
<path d="M310.5 21.5 V178.7" stroke="#141414" stroke-width="1.4" fill="none"/>
<path d="M307.3 175.5 H512" stroke="#141414" stroke-width="1.4" fill="none"/>
<text x="310.5" y="188.9" font-size="8.4" text-anchor="middle" font-weight="normal" fill="#333" stroke="#333" stroke-width="0.05">0</text>
<text x="350.2" y="188.9" font-size="8.4" text-anchor="middle" font-weight="normal" fill="#333" stroke="#333" stroke-width="0.05">1</text>
<text x="389.9" y="188.9" font-size="8.4" text-anchor="middle" font-weight="normal" fill="#333" stroke="#333" stroke-width="0.05">2</text>
<text x="429.6" y="188.9" font-size="8.4" text-anchor="middle" font-weight="normal" fill="#333" stroke="#333" stroke-width="0.05">3</text>
<text x="469.3" y="188.9" font-size="8.4" text-anchor="middle" font-weight="normal" fill="#333" stroke="#333" stroke-width="0.05">4</text>
<text x="509" y="188.9" font-size="8.4" text-anchor="middle" font-weight="normal" fill="#333" stroke="#333" stroke-width="0.05">5</text>
<text x="304.3" y="178.1" font-size="8.4" text-anchor="end" font-weight="normal" fill="#333" stroke="#333" stroke-width="0.05">0</text>
<text x="304.3" y="147.9" font-size="8.4" text-anchor="end" font-weight="normal" fill="#333" stroke="#333" stroke-width="0.05">0.2</text>
<text x="304.3" y="117.7" font-size="8.4" text-anchor="end" font-weight="normal" fill="#333" stroke="#333" stroke-width="0.05">0.4</text>
<text x="304.3" y="87.5" font-size="8.4" text-anchor="end" font-weight="normal" fill="#333" stroke="#333" stroke-width="0.05">0.6</text>
<text x="304.3" y="57.3" font-size="8.4" text-anchor="end" font-weight="normal" fill="#333" stroke="#333" stroke-width="0.05">0.8</text>
<text x="304.3" y="27.1" font-size="8.4" text-anchor="end" font-weight="normal" fill="#333" stroke="#333" stroke-width="0.05">1</text>
<path d="M310.5 175.5 V178.7 M350.2 175.5 V178.7 M389.9 175.5 V178.7 M429.6 175.5 V178.7 M469.3 175.5 V178.7 M509 175.5 V178.7 M307.3 175.5 H310.5 M307.3 145.3 H310.5 M307.3 115.1 H310.5 M307.3 84.9 H310.5 M307.3 54.7 H310.5 M307.3 24.5 H310.5 " stroke="#141414" stroke-width="1.2" fill="none"/>
<path d="M52 234 V391.2" stroke="#141414" stroke-width="1.4" fill="none"/>
<path d="M48.8 388 H253.5" stroke="#141414" stroke-width="1.4" fill="none"/>
<text x="52" y="401.4" font-size="8.4" text-anchor="middle" font-weight="normal" fill="#333" stroke="#333" stroke-width="0.05">0</text>
<text x="85.16" y="401.4" font-size="8.4" text-anchor="middle" font-weight="normal" fill="#333" stroke="#333" stroke-width="0.05">5</text>
<text x="118.33" y="401.4" font-size="8.4" text-anchor="middle" font-weight="normal" fill="#333" stroke="#333" stroke-width="0.05">10</text>
<text x="151.5" y="401.4" font-size="8.4" text-anchor="middle" font-weight="normal" fill="#333" stroke="#333" stroke-width="0.05">15</text>
<text x="184.66" y="401.4" font-size="8.4" text-anchor="middle" font-weight="normal" fill="#333" stroke="#333" stroke-width="0.05">20</text>
<text x="217.82" y="401.4" font-size="8.4" text-anchor="middle" font-weight="normal" fill="#333" stroke="#333" stroke-width="0.05">25</text>
<text x="250.99" y="401.4" font-size="8.4" text-anchor="middle" font-weight="normal" fill="#333" stroke="#333" stroke-width="0.05">30</text>
<text x="45.8" y="390.6" font-size="8.4" text-anchor="end" font-weight="normal" fill="#333" stroke="#333" stroke-width="0.05">0</text>
<text x="45.8" y="365.45" font-size="8.4" text-anchor="end" font-weight="normal" fill="#333" stroke="#333" stroke-width="0.05">0.05</text>
<text x="45.8" y="340.3" font-size="8.4" text-anchor="end" font-weight="normal" fill="#333" stroke="#333" stroke-width="0.05">0.1</text>
<text x="45.8" y="315.15" font-size="8.4" text-anchor="end" font-weight="normal" fill="#333" stroke="#333" stroke-width="0.05">0.15</text>
<text x="45.8" y="290" font-size="8.4" text-anchor="end" font-weight="normal" fill="#333" stroke="#333" stroke-width="0.05">0.2</text>
<text x="45.8" y="264.85" font-size="8.4" text-anchor="end" font-weight="normal" fill="#333" stroke="#333" stroke-width="0.05">0.25</text>
<text x="45.8" y="239.7" font-size="8.4" text-anchor="end" font-weight="normal" fill="#333" stroke="#333" stroke-width="0.05">0.3</text>
<path d="M52 388 V391.2 M85.16 388 V391.2 M118.33 388 V391.2 M151.5 388 V391.2 M184.66 388 V391.2 M217.82 388 V391.2 M250.99 388 V391.2 M48.8 388 H52 M48.8 362.85 H52 M48.8 337.7 H52 M48.8 312.55 H52 M48.8 287.4 H52 M48.8 262.25 H52 M48.8 237.1 H52 " stroke="#141414" stroke-width="1.2" fill="none"/>
<path d="M310.5 234 V391.2" stroke="#141414" stroke-width="1.4" fill="none"/>
<path d="M307.3 388 H512" stroke="#141414" stroke-width="1.4" fill="none"/>
<text x="310.5" y="401.4" font-size="8.4" text-anchor="middle" font-weight="normal" fill="#333" stroke="#333" stroke-width="0.05">0</text>
<text x="350.2" y="401.4" font-size="8.4" text-anchor="middle" font-weight="normal" fill="#333" stroke="#333" stroke-width="0.05">1</text>
<text x="389.9" y="401.4" font-size="8.4" text-anchor="middle" font-weight="normal" fill="#333" stroke="#333" stroke-width="0.05">2</text>
<text x="429.6" y="401.4" font-size="8.4" text-anchor="middle" font-weight="normal" fill="#333" stroke="#333" stroke-width="0.05">3</text>
<text x="469.3" y="401.4" font-size="8.4" text-anchor="middle" font-weight="normal" fill="#333" stroke="#333" stroke-width="0.05">4</text>
<text x="509" y="401.4" font-size="8.4" text-anchor="middle" font-weight="normal" fill="#333" stroke="#333" stroke-width="0.05">5</text>
<text x="304.3" y="390.6" font-size="8.4" text-anchor="end" font-weight="normal" fill="#333" stroke="#333" stroke-width="0.05">0</text>
<text x="304.3" y="369.02" font-size="8.4" text-anchor="end" font-weight="normal" fill="#333" stroke="#333" stroke-width="0.05">0.2</text>
<text x="304.3" y="347.44" font-size="8.4" text-anchor="end" font-weight="normal" fill="#333" stroke="#333" stroke-width="0.05">0.4</text>
<text x="304.3" y="325.86" font-size="8.4" text-anchor="end" font-weight="normal" fill="#333" stroke="#333" stroke-width="0.05">0.6</text>
<text x="304.3" y="304.28" font-size="8.4" text-anchor="end" font-weight="normal" fill="#333" stroke="#333" stroke-width="0.05">0.8</text>
<text x="304.3" y="282.7" font-size="8.4" text-anchor="end" font-weight="normal" fill="#333" stroke="#333" stroke-width="0.05">1</text>
<text x="304.3" y="261.12" font-size="8.4" text-anchor="end" font-weight="normal" fill="#333" stroke="#333" stroke-width="0.05">1.2</text>
<text x="304.3" y="239.54" font-size="8.4" text-anchor="end" font-weight="normal" fill="#333" stroke="#333" stroke-width="0.05">1.4</text>
<path d="M310.5 388 V391.2 M350.2 388 V391.2 M389.9 388 V391.2 M429.6 388 V391.2 M469.3 388 V391.2 M509 388 V391.2 M307.3 388 H310.5 M307.3 366.42 H310.5 M307.3 344.84 H310.5 M307.3 323.26 H310.5 M307.3 301.68 H310.5 M307.3 280.1 H310.5 M307.3 258.52 H310.5 M307.3 236.94 H310.5 " stroke="#141414" stroke-width="1.2" fill="none"/>
<path d="M57.4 24.2 H72" stroke="#6e1232" stroke-width="1.6"/>
<text x="74.7" y="26.2" font-size="7.3" text-anchor="start" font-weight="normal" fill="#1e1e1e" stroke="#1e1e1e" stroke-width="0.1" textLength="44.7" lengthAdjust="spacing">Familial cases</text>
<path d="M57.4 34.1 H72" stroke="#1f2f4e" stroke-width="1.6"/>
<text x="74.7" y="36.1" font-size="7.3" text-anchor="start" font-weight="normal" fill="#1e1e1e" stroke="#1e1e1e" stroke-width="0.1" textLength="26.4" lengthAdjust="spacing">Controls</text>
<circle cx="65.1" cy="43.6" r="1.1" fill="#4e1229"/>
<text x="74.7" y="46" font-size="7.3" text-anchor="start" font-weight="normal" fill="#1e1e1e" stroke="#1e1e1e" stroke-width="0.1" textLength="40.8" lengthAdjust="spacing">C1, enriched</text>
<circle cx="65.1" cy="53.5" r="1.1" fill="#1a2b47"/>
<text x="74.7" y="55.9" font-size="7.3" text-anchor="start" font-weight="normal" fill="#1e1e1e" stroke="#1e1e1e" stroke-width="0.1" textLength="51.8" lengthAdjust="spacing">C2, background</text>
<path d="M57.6 64 H71.9" stroke="#854060" stroke-width="1.6"/>
<text x="74.7" y="65.8" font-size="7.3" text-anchor="start" font-weight="normal" fill="#1e1e1e" stroke="#1e1e1e" stroke-width="0.1" textLength="48.5" lengthAdjust="spacing">πC1 + (1-π)C2</text>
<path d="M316.4 24.2 H331" stroke="#6e1232" stroke-width="1.6"/>
<text x="333.7" y="26.2" font-size="7.3" text-anchor="start" font-weight="normal" fill="#1e1e1e" stroke="#1e1e1e" stroke-width="0.1" textLength="44.7" lengthAdjust="spacing">Familial cases</text>
<path d="M316.4 34.1 H331" stroke="#1f2f4e" stroke-width="1.6"/>
<text x="333.7" y="36.1" font-size="7.3" text-anchor="start" font-weight="normal" fill="#1e1e1e" stroke="#1e1e1e" stroke-width="0.1" textLength="26.4" lengthAdjust="spacing">Controls</text>
<circle cx="324.1" cy="43.6" r="1.1" fill="#4e1229"/>
<text x="333.7" y="46" font-size="7.3" text-anchor="start" font-weight="normal" fill="#1e1e1e" stroke="#1e1e1e" stroke-width="0.1" textLength="40.8" lengthAdjust="spacing">C1, enriched</text>
<circle cx="324.1" cy="53.5" r="1.1" fill="#1a2b47"/>
<text x="333.7" y="55.9" font-size="7.3" text-anchor="start" font-weight="normal" fill="#1e1e1e" stroke="#1e1e1e" stroke-width="0.1" textLength="51.8" lengthAdjust="spacing">C2, background</text>
<path d="M316.6 64 H330.9" stroke="#854060" stroke-width="1.6"/>
<text x="333.7" y="65.8" font-size="7.3" text-anchor="start" font-weight="normal" fill="#1e1e1e" stroke="#1e1e1e" stroke-width="0.1" textLength="48.5" lengthAdjust="spacing">πC1 + (1-π)C2</text>
<path d="M57.4 236.7 H72" stroke="#6e1232" stroke-width="1.6"/>
<text x="74.7" y="238.7" font-size="7.3" text-anchor="start" font-weight="normal" fill="#1e1e1e" stroke="#1e1e1e" stroke-width="0.1" textLength="44.7" lengthAdjust="spacing">Familial cases</text>
<path d="M57.4 246.6 H72" stroke="#1f2f4e" stroke-width="1.6"/>
<text x="74.7" y="248.6" font-size="7.3" text-anchor="start" font-weight="normal" fill="#1e1e1e" stroke="#1e1e1e" stroke-width="0.1" textLength="26.4" lengthAdjust="spacing">Controls</text>
<circle cx="65.1" cy="256.1" r="1.1" fill="#4e1229"/>
<text x="74.7" y="258.5" font-size="7.3" text-anchor="start" font-weight="normal" fill="#1e1e1e" stroke="#1e1e1e" stroke-width="0.1" textLength="40.8" lengthAdjust="spacing">C1, enriched</text>
<circle cx="65.1" cy="266" r="1.1" fill="#1a2b47"/>
<text x="74.7" y="268.4" font-size="7.3" text-anchor="start" font-weight="normal" fill="#1e1e1e" stroke="#1e1e1e" stroke-width="0.1" textLength="51.8" lengthAdjust="spacing">C2, background</text>
<path d="M57.6 276.5 H71.9" stroke="#854060" stroke-width="1.6"/>
<text x="74.7" y="278.3" font-size="7.3" text-anchor="start" font-weight="normal" fill="#1e1e1e" stroke="#1e1e1e" stroke-width="0.1" textLength="48.5" lengthAdjust="spacing">πC1 + (1-π)C2</text>
<path d="M316.4 236.7 H331" stroke="#6e1232" stroke-width="1.6"/>
<text x="333.7" y="238.7" font-size="7.3" text-anchor="start" font-weight="normal" fill="#1e1e1e" stroke="#1e1e1e" stroke-width="0.1" textLength="44.7" lengthAdjust="spacing">Familial cases</text>
<path d="M316.4 246.6 H331" stroke="#1f2f4e" stroke-width="1.6"/>
<text x="333.7" y="248.6" font-size="7.3" text-anchor="start" font-weight="normal" fill="#1e1e1e" stroke="#1e1e1e" stroke-width="0.1" textLength="26.4" lengthAdjust="spacing">Controls</text>
<circle cx="324.1" cy="256.1" r="1.1" fill="#4e1229"/>
<text x="333.7" y="258.5" font-size="7.3" text-anchor="start" font-weight="normal" fill="#1e1e1e" stroke="#1e1e1e" stroke-width="0.1" textLength="40.8" lengthAdjust="spacing">C1, enriched</text>
<circle cx="324.1" cy="266" r="1.1" fill="#1a2b47"/>
<text x="333.7" y="268.4" font-size="7.3" text-anchor="start" font-weight="normal" fill="#1e1e1e" stroke="#1e1e1e" stroke-width="0.1" textLength="51.8" lengthAdjust="spacing">C2, background</text>
<path d="M316.6 276.5 H330.9" stroke="#854060" stroke-width="1.6"/>
<text x="333.7" y="278.3" font-size="7.3" text-anchor="start" font-weight="normal" fill="#1e1e1e" stroke="#1e1e1e" stroke-width="0.1" textLength="48.5" lengthAdjust="spacing">πC1 + (1-π)C2</text>
</g>
</svg>
</body></html>
